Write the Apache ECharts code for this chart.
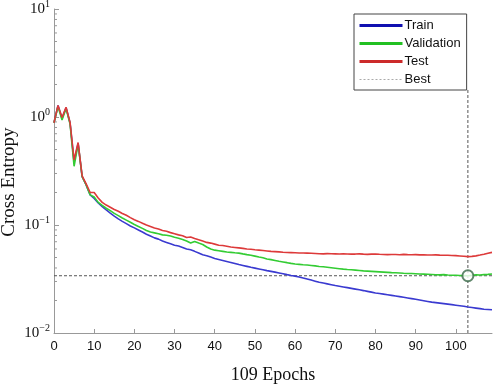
<!DOCTYPE html>
<html>
<head>
<meta charset="utf-8">
<script src="https://cdn.jsdelivr.net/npm/echarts@6/dist/echarts.min.js"></script>
<style>
  html, body { margin: 0; padding: 0; background: #fff; }
  #chart { width: 498px; height: 385px; }
</style>
</head>
<body>
<div id="chart"></div>
<script>
// cross entropy per epoch, 0..109
const train = [
  0.885, 1.28, 0.97, 1.22, 0.88, 0.38, 0.57, 0.28, 0.235, 0.19,
  0.176, 0.160, 0.148, 0.138, 0.129, 0.121, 0.114, 0.108, 0.103, 0.098,
  0.094, 0.090, 0.086, 0.082, 0.079, 0.076, 0.074, 0.071, 0.069, 0.067,
  0.065, 0.064, 0.062, 0.060, 0.059, 0.057, 0.055, 0.053, 0.052, 0.0505,
  0.049, 0.048, 0.047, 0.046, 0.045, 0.044, 0.043, 0.0422, 0.0414, 0.0406,
  0.0399, 0.0392, 0.0385, 0.0378, 0.0372, 0.0366, 0.0360, 0.0354, 0.0347, 0.0341,
  0.0336, 0.0330, 0.0323, 0.0316, 0.0309, 0.0302, 0.0295, 0.0290, 0.0285, 0.0280,
  0.0275, 0.0271, 0.0267, 0.0263, 0.0259, 0.0255, 0.0251, 0.0247, 0.0243, 0.0239,
  0.0235, 0.0232, 0.0229, 0.0226, 0.0223, 0.0220, 0.0217, 0.0214, 0.0211, 0.0208,
  0.0205, 0.0202, 0.0199, 0.0196, 0.0193, 0.0191, 0.0189, 0.0187, 0.0185, 0.0183,
  0.0181, 0.0179, 0.0177, 0.0174, 0.0172, 0.0170, 0.0168, 0.0166, 0.0165, 0.0164
]
const validation = [
  0.885, 1.25, 0.94, 1.20, 0.86, 0.35, 0.56, 0.28, 0.235, 0.19,
  0.182, 0.162, 0.152, 0.143, 0.136, 0.128, 0.122, 0.116, 0.111, 0.106,
  0.101, 0.097, 0.093, 0.089, 0.086, 0.0845, 0.083, 0.081, 0.0805, 0.079,
  0.077, 0.0755, 0.0735, 0.071, 0.068, 0.0705, 0.068, 0.066, 0.0625, 0.060,
  0.0585, 0.0578, 0.057, 0.0562, 0.0558, 0.0553, 0.0549, 0.0540, 0.0532, 0.0525,
  0.0515, 0.0505, 0.0497, 0.0485, 0.0478, 0.0470, 0.0462, 0.0455, 0.0448, 0.0441,
  0.0435, 0.0432, 0.0428, 0.0426, 0.0422, 0.0418, 0.0413, 0.0410, 0.0406, 0.0402,
  0.0398, 0.0394, 0.0390, 0.0387, 0.0385, 0.0382, 0.0379, 0.0376, 0.0374, 0.0372,
  0.0370, 0.0368, 0.0366, 0.0364, 0.0362, 0.0361, 0.0359, 0.0357, 0.0356, 0.0355,
  0.0354, 0.0352, 0.0351, 0.0350, 0.0348, 0.0346, 0.0345, 0.0347, 0.0344, 0.0342,
  0.0343, 0.0341, 0.0340, 0.0339, 0.0342, 0.0345, 0.0344, 0.0347, 0.0349, 0.0352
]
const test = [
  0.885, 1.28, 0.99, 1.23, 0.89, 0.40, 0.58, 0.285, 0.24, 0.20,
  0.20, 0.178, 0.162, 0.153, 0.146, 0.139, 0.134, 0.128, 0.123, 0.117,
  0.112, 0.108, 0.104, 0.100, 0.097, 0.094, 0.092, 0.089, 0.0875, 0.085,
  0.083, 0.081, 0.0795, 0.0765, 0.0775, 0.075, 0.073, 0.071, 0.069, 0.068,
  0.0665, 0.065, 0.0645, 0.0635, 0.0625, 0.062, 0.0614, 0.0608, 0.060, 0.0596,
  0.059, 0.0585, 0.058, 0.0575, 0.057, 0.0567, 0.0564, 0.0560, 0.0557, 0.0555,
  0.0553, 0.0551, 0.055, 0.0549, 0.0548, 0.0545, 0.0542, 0.0540, 0.0543, 0.0541,
  0.0540, 0.0538, 0.0541, 0.0539, 0.0537, 0.0538, 0.0540, 0.0537, 0.0535, 0.0537,
  0.0539, 0.0536, 0.0534, 0.0532, 0.0534, 0.0533, 0.0531, 0.0535, 0.0532, 0.0530,
  0.0532, 0.0529, 0.0531, 0.0528, 0.0527, 0.0529, 0.0526, 0.0524, 0.0525, 0.0522,
  0.0520, 0.0517, 0.0514, 0.0510, 0.0512, 0.0518, 0.0527, 0.0537, 0.0548, 0.0558
]
const bestEpoch = 103
const bestValue = 0.0339
const bestSpan = [0.01, 1.8]
const epochSpan = [0, 109]
const minorTicks = [
  0.02, 0.03, 0.04, 0.05, 0.06, 0.07, 0.08, 0.09,
  0.2, 0.3, 0.4, 0.5, 0.6, 0.7, 0.8, 0.9,
  2, 3, 4, 5, 6, 7, 8, 9
]

const pairs = arr => arr.map((v, i) => [i, v])
const dashed = { color: '#555', width: 1, type: [3, 2] }

const chart = echarts.init(document.getElementById('chart'))
const option = {
  animation: false,
  backgroundColor: '#fff',
  grid: { left: 54, right: 6, top: 9, bottom: 52, outerBoundsMode: 'none', containLabel: false },
  legend: {
    data: [
      { name: 'Train', lineStyle: { width: 3, color: '#1010b0' } },
      { name: 'Validation', lineStyle: { width: 3, color: '#22c022' } },
      { name: 'Test', lineStyle: { width: 3, color: '#cc2a2a' } },
      { name: 'Best', lineStyle: { width: 1, color: '#aaa', type: [2, 2] } }
    ],
    orient: 'vertical',
    left: 354, top: 14,
    itemWidth: 43, itemHeight: 12, itemGap: 5,
    padding: [5, 6, 4, 4],
    borderColor: '#444', borderWidth: 1,
    backgroundColor: '#fff',
    itemStyle: { opacity: 0 },
    textStyle: { fontFamily: 'Liberation Sans', fontSize: 13, color: '#111', padding: [0, 0, 0, -3] }
  },
  xAxis: {
    type: 'value', min: 0, max: 109, interval: 10,
    name: '109 Epochs', nameLocation: 'middle', nameGap: 33, nameMoveOverlap: false,
    nameTextStyle: { fontFamily: 'Liberation Serif', fontSize: 18, color: '#111' },
    axisLine: { lineStyle: { color: '#999' } },
    axisTick: { inside: true, length: 4, lineStyle: { color: '#999' } },
    axisLabel: { showMaxLabel: false, fontFamily: 'Liberation Sans', fontSize: 13, color: '#111', margin: 7 },
    splitLine: { show: false }
  },
  yAxis: {
    type: 'log', logBase: 10, min: 0.01, max: 10,
    name: 'Cross Entropy', nameLocation: 'middle', nameGap: 35, nameMoveOverlap: false,
    nameTextStyle: { fontFamily: 'Liberation Serif', fontSize: 19, color: '#111', padding: [0, 22, 0, 0] },
    axisLine: { show: true, lineStyle: { color: '#999' } },
    axisTick: { inside: true, length: 5, lineStyle: { color: '#999' } },
    axisLabel: {
      margin: 4,
      formatter: v => {
        const e = Math.round(Math.log10(v))
        return '{b|10}{s|' + (e < 0 ? '\u2212' + (-e) : e) + '}'
      },
      rich: {
        b: { fontFamily: 'Liberation Serif', fontSize: 15, color: '#111' },
        s: { fontFamily: 'Liberation Serif', fontSize: 10, color: '#111', verticalAlign: 'bottom', padding: [0, 0, 9, 0] }
      }
    },
    splitLine: { show: false }
  },
  series: [
    {
      name: 'Train', type: 'line', data: pairs(train), symbol: 'none',
      lineStyle: { color: '#3a3ad0', width: 1.6 }, itemStyle: { color: '#2020b8' }, z: 3
    },
    {
      name: 'Validation', type: 'line', data: pairs(validation), symbol: 'none',
      lineStyle: { color: '#33cc33', width: 1.6 }, itemStyle: { color: '#33cc33' }, z: 4
    },
    {
      name: 'Test', type: 'line', data: pairs(test), symbol: 'none',
      lineStyle: { color: '#dd3a3a', width: 1.6 }, itemStyle: { color: '#dd3a3a' }, z: 5
    },
    {
      name: 'Best', type: 'line', symbol: 'none',
      data: bestSpan.map(v => [bestEpoch, v]),
      lineStyle: dashed, itemStyle: { color: '#555' }, z: 2
    },
    {
      name: 'Best', type: 'line', symbol: 'none',
      data: epochSpan.map(e => [e, bestValue]),
      lineStyle: dashed, itemStyle: { color: '#555' }, z: 2
    },
    {
      type: 'scatter', data: [[bestEpoch, bestValue]],
      symbol: 'emptyCircle', symbolSize: 11,
      itemStyle: { color: '#3a6a48', borderWidth: 1.2 }, z: 6
    },
    {
      type: 'custom', data: minorTicks.map(v => [0, v]), silent: true,
      renderItem: (params, api) => {
        const p = api.coord([api.value(0), api.value(1)])
        return {
          type: 'line',
          shape: { x1: p[0], y1: p[1], x2: p[0] + 3, y2: p[1] },
          style: { stroke: '#999', lineWidth: 1 }
        }
      }
    }
  ]
}
chart.setOption(option)
window.addEventListener('resize', () => chart.resize())
</script>
</body>
</html>
